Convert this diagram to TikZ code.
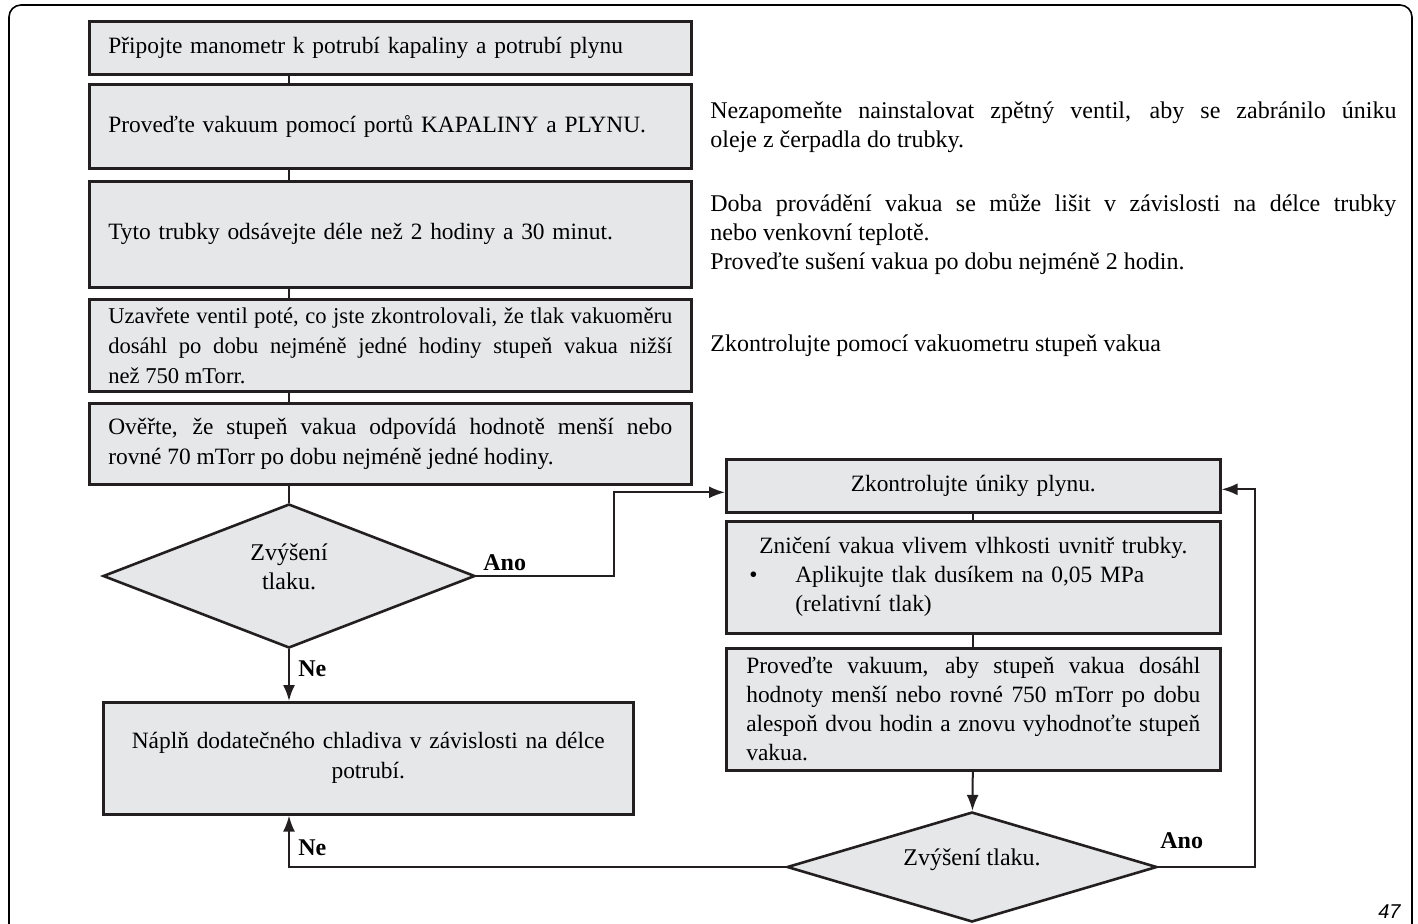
\documentclass[tikz,border=0pt]{standalone}
\usepackage{fontspec}
\setmainfont{Liberation Serif}
\setsansfont{Liberation Sans}
\usepackage{tikz}
\usetikzlibrary{arrows.meta,positioning,shapes.geometric}
\definecolor{boxgrey}{HTML}{E6E7E8}
\definecolor{inkdark}{HTML}{231F20}
\tikzset{
  stepbox/.style={draw=inkdark, line width=1.3pt, fill=boxgrey,
                  inner xsep=9.5pt, inner ysep=0pt, text width=282pt,
                  anchor=north west, font=\fontsize{11.7}{15}\selectfont},
  sidebox/.style={stepbox, inner xsep=10pt, text width=227pt,
                  font=\fontsize{11.7}{14.5}\selectfont},
  decide/.style={diamond, draw=inkdark, line width=1.3pt, fill=boxgrey,
                 inner sep=0pt},
  link/.style={line width=1pt, draw=inkdark},
  flow/.style={-{Latex[length=8pt,width=6pt]}, line width=1pt,
               draw=inkdark},
  note/.style={font=\fontsize{12}{14.5}\selectfont, text width=343pt,
               align=justify, inner sep=0pt, anchor=west},
  answer/.style={font=\fontsize{12}{14}\selectfont\bfseries, inner sep=0pt,
                 anchor=base west},
}
\newcommand{\bulletgap}{\makebox[23pt][l]{\textbullet}}

\begin{document}
\begin{tikzpicture}[x=0.5pt, y=-0.5pt]
\useasboundingbox (0,0) rectangle (1418,923);
\draw[line width=0.8pt, rounded corners=6pt]
  (9,945) -- (9,5) -- (1412,5) -- (1412,945);

% ---------------- left column --------------------------------------------
\coordinate (spine) at (289,0);
\node[stepbox, align=left, minimum height=26.5pt] at (88,20) (connect)
   {Připojte manometr k potrubí kapaliny a potrubí plynu};
\node[stepbox, align=left, minimum height=42pt] at (88,83) (ports)
   {Proveďte vakuum pomocí portů KAPALINY a PLYNU.};
\node[stepbox, align=left, minimum height=53pt] at (88,180) (evac)
   {Tyto trubky odsávejte déle než 2 hodiny a 30 minut.};
\node[stepbox, align=justify, minimum height=46pt,
      font=\fontsize{11.3}{15}\selectfont] at (88,298) (close)
   {Uzavřete ventil poté, co jste zkontrolovali, že tlak vakuoměru\linebreak
    dosáhl po dobu nejméně jedné hodiny stupeň vakua nižší\linebreak
    než 750 mTorr.};
\node[stepbox, align=justify, minimum height=40.5pt] at (88,402) (verify)
   {Ověřte, že stupeň vakua odpovídá hodnotě menší nebo\linebreak
    rovné 70 mTorr po dobu nejméně jedné hodiny.};
\foreach \a/\b in {connect/ports, ports/evac, evac/close, close/verify}
  \draw[link] (\a.south -| spine) -- (\b.north -| spine);

\node[decide, minimum width=186pt, minimum height=72pt] at (289,576) (rise) {};
\node[font=\fontsize{12}{14.5}\selectfont, align=center]
  at ([yshift=4.5pt]rise.center) (risetxt) {Zvýšení\\tlaku.};
\draw[link] (verify.south -| spine) -- (rise.north);

\node[stepbox, align=center, text width=245pt, inner xsep=10pt,
      minimum height=56pt] at (102,701) (charge)
   {Náplň dodatečného chladiva v závislosti na délce\\potrubí.};
\draw[flow] (rise.south) -- (charge.north -| spine);
\node[answer] at (298,676) (no1) {Ne};

% ---------------- right column -------------------------------------------
\node[sidebox, align=center, minimum height=26.5pt] at (725,458) (leak)
   {Zkontrolujte úniky plynu.};
\node[sidebox, align=center, inner xsep=11.5pt, text width=224pt,
      minimum height=56pt] at (725,520) (moist)
   {Zničení vakua vlivem vlhkosti uvnitř trubky.\\
    \makebox[224pt][l]{\bulletgap Aplikujte tlak dusíkem na 0,05 MPa}\\
    \makebox[224pt][l]{\hspace{23pt}(relativní tlak)}};
\node[sidebox, align=justify, minimum height=61pt] at (725,647) (redo)
   {Proveďte vakuum, aby stupeň vakua dosáhl\linebreak
    hodnoty menší nebo rovné 750 mTorr po dobu\linebreak
    alespoň dvou hodin a znovu vyhodnoťte stupeň\linebreak
    vakua.};
\draw[link] (leak) -- (moist);
\draw[link] (moist) -- (redo);

\node[decide, minimum width=185pt, minimum height=55pt] at (972,867) (rise2) {};
\node[font=\fontsize{12}{14.5}\selectfont]
  at ([yshift=3.5pt]rise2.center) (rise2txt) {Zvýšení tlaku.};
\draw[flow] (redo) -- (rise2);

% ---------------- loops --------------------------------------------------
\coordinate (yesbend) at (614,0);
\coordinate (loopback) at (1255,0);
\draw[flow] (rise.east) -- (rise.east -| yesbend)
  |- ([yshift=-3.25pt]leak.west);
\node[answer] at (483,570) (yes1) {Ano};
\draw[flow] (rise2.east) -- (rise2.east -| loopback)
  |- ([yshift=-1.75pt]leak.east);
\node[answer] at (1160,848) (yes2) {Ano};
\draw[flow] (rise2.west) -| (charge.south -| spine);
\node[answer] at (298,855) (no2) {Ne};

% ---------------- notes --------------------------------------------------
\node[note] at (710,127) (valve)
   {Nezapomeňte nainstalovat zpětný ventil, aby se zabránilo úniku\linebreak
    oleje z čerpadla do trubky.};
\node[note] at (710,234) (duration)
   {Doba provádění vakua se může lišit v závislosti na délce trubky\linebreak
    nebo venkovní teplotě.\\
    Proveďte sušení vakua po dobu nejméně 2 hodin.};
\node[note] at (710,346) (gauge)
   {Zkontrolujte pomocí vakuometru stupeň vakua};

\node[font=\sffamily\itshape\fontsize{10}{12}\selectfont, anchor=base east,
      inner sep=0pt] at (1401,918) (page) {47};
\end{tikzpicture}
\end{document}
